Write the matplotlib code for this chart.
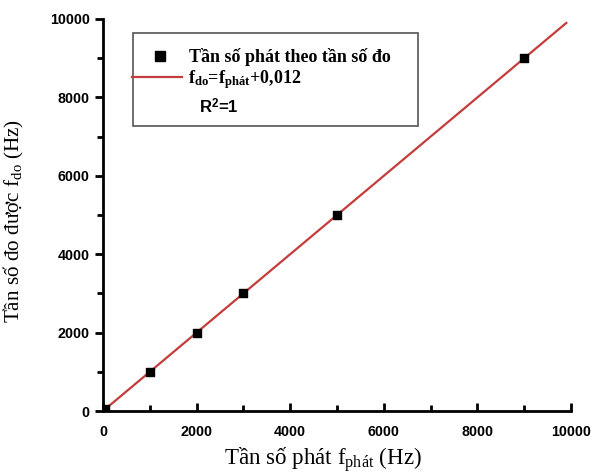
import matplotlib
matplotlib.use("Agg")
import matplotlib.pyplot as plt
from matplotlib.lines import Line2D
from matplotlib.patches import Rectangle
import numpy as np

# Data
f_phat = [50, 1000, 2000, 3000, 5000, 9000]
f_do = [50, 1000, 2000, 3000, 5000, 9000]
fit_x = [0, 9900]
slope = 1.0
intercept = 0.012
x_ticks = [0, 2000, 4000, 6000, 8000, 10000]
y_ticks = [0, 2000, 4000, 6000, 8000, 10000]
legend_labels = ["Tần số phát theo tần số đo",
                 r"f$_{\mathbf{do}}$=f$_{\mathbf{phát}}$+0,012",
                 r"R$^{\mathsf{2}}$=1"]

plt.rcParams['mathtext.fontset'] = 'custom'
plt.rcParams['mathtext.rm'] = 'Liberation Serif'
plt.rcParams['mathtext.it'] = 'Liberation Serif'
plt.rcParams['mathtext.bf'] = 'Liberation Serif:bold'
plt.rcParams['mathtext.sf'] = 'Liberation Sans:bold'

LINE_C = '#c43c3c'

fig = plt.figure(figsize=(5.94, 4.75), dpi=100)
ax = fig.add_axes([0.1734, 0.1347, 0.9613 - 0.1734, 0.96 - 0.1347])

fx = np.array(fit_x)
ax.plot(fx, slope * fx + intercept, color=LINE_C, lw=1.6, zorder=2)
ax.scatter(f_phat, f_do, marker='s', s=26, color='black', zorder=3)

ax.set_xlim(0, 10000)
ax.set_ylim(0, 10000)
ax.set_xticks(x_ticks)
ax.set_yticks(y_ticks)
ax.set_xticks(np.arange(1000, 10000, 2000), minor=True)
ax.set_yticks(np.arange(1000, 10000, 2000), minor=True)

for s in ['top', 'right']:
    ax.spines[s].set_visible(False)
for s in ['left', 'bottom']:
    ax.spines[s].set_linewidth(2)

ax.tick_params(axis='x', which='major', direction='in', length=6, width=2, pad=10)
ax.tick_params(axis='x', which='minor', direction='in', length=4, width=2)
ax.tick_params(axis='y', which='major', direction='out', length=6, width=2, pad=3.5)
ax.tick_params(axis='y', which='minor', direction='out', length=4, width=2)
for lab in ax.get_xticklabels() + ax.get_yticklabels():
    lab.set_fontfamily('Liberation Sans')
    lab.set_fontweight('bold')
    lab.set_fontsize(10.3)

ax.set_xlabel(r"Tần số phát f$_{\mathrm{phát}}$ (Hz)", fontfamily='Liberation Serif', fontsize=16.6)
ax.set_ylabel(r"Tần số đo được f$_{\mathrm{do}}$ (Hz)", fontfamily='Liberation Serif', fontsize=15.2)
ax.xaxis.set_label_coords(0.470, -0.125)
ax.xaxis.label.set_verticalalignment('center')
ax.yaxis.set_label_coords(-0.19, 0.485)
ax.yaxis.label.set_verticalalignment('center')

# Legend box drawn in axes coordinates
ax.add_patch(Rectangle((0.064, 0.727), 0.609, 0.237, transform=ax.transAxes,
                       facecolor='white', edgecolor='#555555', lw=1.2, zorder=4))
ax.add_line(Line2D([0.122], [0.906], transform=ax.transAxes, marker='s',
                   color='black', ls='none', markersize=7, zorder=5))
ax.add_line(Line2D([0.062, 0.169], [0.851, 0.851], transform=ax.transAxes,
                   color=LINE_C, lw=1.6, zorder=5))
ax.text(0.184, 0.890, legend_labels[0], transform=ax.transAxes, va='baseline', ha='left',
        fontfamily='Liberation Serif', fontweight='bold', fontsize=13, zorder=6)
ax.text(0.182, 0.837, legend_labels[1], transform=ax.transAxes, va='baseline', ha='left',
        fontfamily='Liberation Serif', fontweight='bold', fontsize=13, zorder=6)
ax.text(0.205, 0.760, legend_labels[2], transform=ax.transAxes, va='baseline', ha='left',
        fontfamily='Liberation Sans', fontweight='bold', fontsize=12, zorder=6)

fig.savefig('out.png', dpi=100)
